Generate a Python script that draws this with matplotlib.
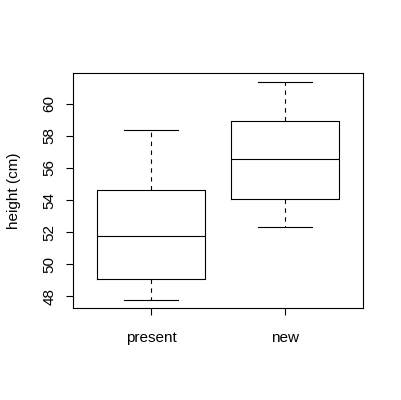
import matplotlib
matplotlib.use("Agg")
import matplotlib.pyplot as plt

# box statistics (lower whisker, Q1, median, Q3, upper whisker)
groups = ["present", "new"]
whisker_low = [47.8, 52.3]
q1 = [49.1, 54.05]
medians = [51.75, 56.55]
q3 = [54.6, 58.9]
whisker_high = [58.35, 61.35]
y_ticks = [48, 50, 52, 54, 56, 58, 60]

plt.rcParams['font.family'] = ['Liberation Sans', 'DejaVu Sans']

fig = plt.figure(figsize=(4.01, 4.0), dpi=100, facecolor='white')
ax = fig.add_axes([0.183, 0.229, 0.7217, 0.588])

stats = []
for i, name in enumerate(groups):
    stats.append({
        'label': name,
        'whislo': whisker_low[i],
        'q1': q1[i],
        'med': medians[i],
        'q3': q3[i],
        'whishi': whisker_high[i],
        'fliers': [],
    })

ax.bxp(stats, positions=[1, 2], widths=0.8, showfliers=False,
       boxprops=dict(color='black', linewidth=0.8),
       medianprops=dict(color='black', linewidth=0.8),
       whiskerprops=dict(color='black', linewidth=0.8, linestyle=(0, (4, 4))),
       capprops=dict(color='black', linewidth=0.8),
       capwidths=0.4)

ax.set_xlim(0.42, 2.58)
ax.set_ylim(47.25, 61.9)
ax.set_yticks(y_ticks)
ax.set_yticklabels([str(v) for v in y_ticks], rotation=90, va='center')
ax.set_xticks([1, 2])
ax.set_xticklabels(groups)
ax.tick_params(axis='both', direction='out', length=5, width=0.8,
               labelsize=11, colors='black')
ax.tick_params(axis='y', pad=7)
ax.tick_params(axis='x', pad=11)
for s in ax.spines.values():
    s.set_linewidth(0.8)
    s.set_color('black')

fig.text(14 / 401, 1 - 191 / 400, 'height (cm)', rotation=90,
         ha='center', va='center', fontsize=11)

fig.savefig('out.png', dpi=100, facecolor='white')
